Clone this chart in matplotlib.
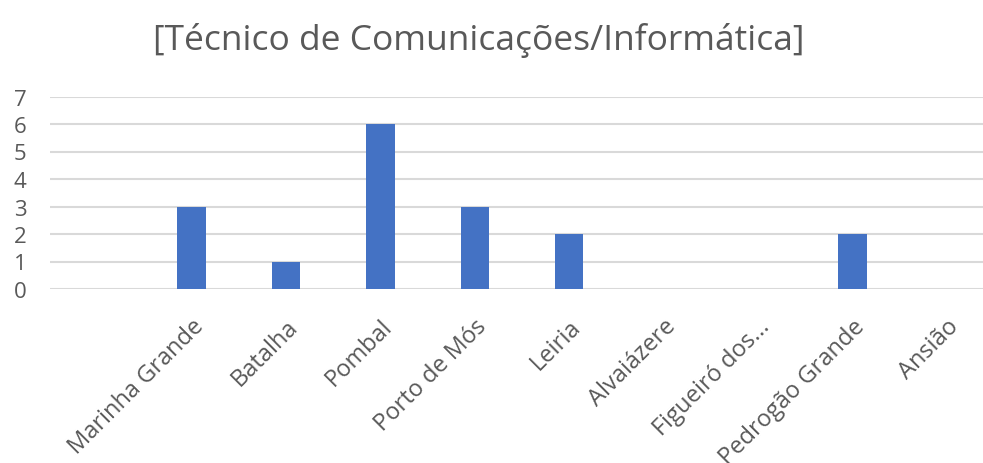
import matplotlib

matplotlib.use('Agg')
import matplotlib.pyplot as plt

# Values (first category has no label)
categories = ['', 'Marinha Grande', 'Batalha', 'Pombal', 'Porto de Mós', 'Leiria',
              'Alvaiázere', 'Figueiró dos...', 'Pedrogão Grande', 'Ansião']
counts = [0, 3, 1, 6, 3, 2, 0, 0, 2, 0]
y_ticks = [0, 1, 2, 3, 4, 5, 6, 7]
TITLE = '[Técnico de Comunicações/Informática]'

plt.rcParams['font.family'] = ['Open Sans', 'DejaVu Sans']
TEXT_GREY = '#595959'
GRID_GREY = '#d9d9d9'

fig = plt.figure(figsize=(9.83, 4.64), dpi=100)
# the plot area runs past the right edge of the picture, as in the reference
ax = fig.add_axes([50 / 983, 174 / 464, 944 / 983, 192.5 / 464])

x = range(len(categories))
ax.bar(x, counts, width=0.3, color='#4472C4', linewidth=0, zorder=3)

ax.set_xlim(-0.5, len(categories) - 0.5)
ax.set_ylim(0, 7)
ax.set_yticks(y_ticks)
ax.set_yticklabels([str(v) for v in y_ticks])
ax.set_xticks(list(x))
ax.set_xticklabels(categories, rotation=45, ha='right', rotation_mode='anchor')

ax.grid(axis='y', color=GRID_GREY, linewidth=1.5, zorder=0)
for s in ax.spines.values():
    s.set_visible(False)
ax.tick_params(axis='both', length=0, colors=TEXT_GREY)
ax.tick_params(axis='y', pad=17, labelsize=16)
ax.tick_params(axis='x', pad=18, labelsize=17)

fig.text(479 / 983, 1 - 41 / 464, TITLE, ha='center', va='center',
         fontsize=25.5, color=TEXT_GREY)

fig.savefig('out.png', dpi=100)
